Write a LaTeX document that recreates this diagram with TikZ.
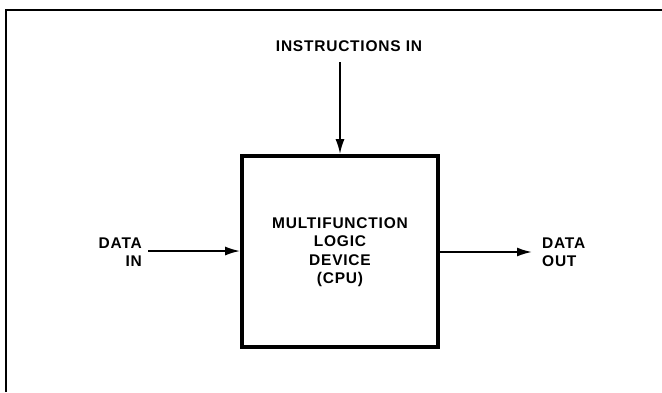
\documentclass[tikz,border=0pt]{standalone}
\usepackage{fontspec}
\setmainfont{Liberation Sans}[LetterSpace=5]
\usetikzlibrary{arrows.meta}
\begin{document}
\begin{tikzpicture}[x=1pt,y=-1pt,
  lbl/.style={font=\bfseries\fontsize{15.5}{18.5}\selectfont, inner sep=0pt},
  conn/.style={line width=1.8pt, -{Latex[length=15pt,width=9pt]}},
  cpubox/.style={draw, line width=3.8pt, minimum width=196pt, minimum height=191pt, inner sep=0pt}]
\useasboundingbox (0,0) rectangle (662,392);
\coordinate (tl) at (6,10);
\coordinate (tr) at (662,10);
\coordinate (bl) at (6,392);
\draw[line width=1.4pt] (bl) -- (tl) -- (tr);
\node[cpubox] (cpu) at (340,251.5) {};
\node[lbl, align=center] (cputext) at (340,252) {MULTIFUNCTION\\LOGIC\\DEVICE\\(CPU)};
\node[lbl] (instr) at (349,46) {INSTRUCTIONS IN};
\coordinate (instrstart) at (340,62);
\draw[conn] (instrstart) -- (cpu.north);
\node[lbl, align=right, anchor=east] (din) at (142,252) {DATA\\IN};
\coordinate (dinstart) at (148,251);
\draw[conn] (dinstart) -- (dinstart -| cpu.west);
\node[lbl, align=left, anchor=west] (dout) at (542,252) {DATA\\OUT};
\coordinate (doutstart) at (cpu.east |- 0,252);
\draw[conn] (doutstart) -- (532,252) coordinate (doutend);
\end{tikzpicture}
\end{document}
